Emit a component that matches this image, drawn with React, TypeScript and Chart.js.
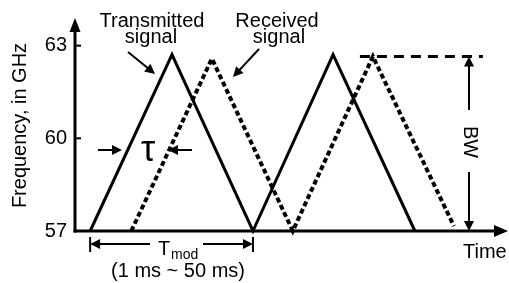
import React, { useEffect, useRef } from "react";
import { Chart, registerables } from "chart.js";

Chart.register(...registerables);

// ---- data (time in arbitrary units, frequency in GHz) ----
const timeTx = [3.5, 22.4, 41.1, 59.6, 78.5];
const freqTx = [57, 62.71, 57, 62.71, 57];
const timeRx = [13.0, 31.6, 50.3, 68.8, 87.5];
const freqRx = [57, 62.58, 57, 62.65, 57.16];
const bwTime = [65.8, 94.2];
const bwFreq = [62.65, 62.65];
const yTicks = [57, 60, 63];

const yTitle = "Frequency, in GHz";
const xTitle = "Time";
const txLabel = ["Transmitted", "signal"];
const rxLabel = ["Received", "signal"];
const tauLabel = "τ";
const bwLabel = "BW";
const tmodMain = "T";
const tmodSub = "mod";
const tmodRange = "(1 ms ~ 50 ms)";

const FONT = '"Liberation Sans", Arial, sans-serif';

const pts = (xs: number[], ys: number[]) => xs.map((x, i) => ({ x, y: ys[i] }));

const annotPlugin = {
  id: "annot",
  afterDraw(chart: any) {
    const { ctx, chartArea: ca, scales } = chart;
    const X = (v: number) => scales.x.getPixelForValue(v);
    const Y = (v: number) => scales.y.getPixelForValue(v);
    ctx.save();
    ctx.strokeStyle = "#000";
    ctx.fillStyle = "#000";
    ctx.setLineDash([]);
    ctx.lineCap = "butt";

    const line = (x1: number, y1: number, x2: number, y2: number, w = 2) => {
      ctx.lineWidth = w;
      ctx.beginPath();
      ctx.moveTo(x1, y1);
      ctx.lineTo(x2, y2);
      ctx.stroke();
    };
    const arrow = (
      x1: number, y1: number, x2: number, y2: number,
      w = 2, len = 9, half = 4.5
    ) => {
      const a = Math.atan2(y2 - y1, x2 - x1);
      const c = Math.cos(a), s = Math.sin(a);
      line(x1, y1, x2 - c * (len - 1), y2 - s * (len - 1), w);
      ctx.beginPath();
      ctx.moveTo(x2, y2);
      ctx.lineTo(x2 - len * c + half * s, y2 - len * s - half * c);
      ctx.lineTo(x2 - len * c - half * s, y2 - len * s + half * c);
      ctx.closePath();
      ctx.fill();
    };
    const text = (t: string, x: number, y: number, size: number, align: CanvasTextAlign = "center") => {
      ctx.font = `${size}px ${FONT}`;
      ctx.textAlign = align;
      ctx.textBaseline = "alphabetic";
      ctx.fillText(t, x, y);
    };

    const x0 = ca.left;
    const yb = Y(57);

    // axes with arrows
    arrow(x0, yb + 1.5, x0, ca.top - 2, 3, 14, 5.5);
    arrow(x0 - 1.5, yb, ca.right, yb, 3, 14, 6);
    // inward tick marks
    yTicks.forEach((v) => line(x0, Y(v), x0 + 6, Y(v), 2));

    // x axis title
    text(xTitle, 463, 258, 20, "left");

    // transmitted / received labels
    text(txLabel[0], 152, 27, 20);
    text(txLabel[1], 151, 43, 20);
    arrow(128, 52, 155, 74, 2, 10, 5);
    text(rxLabel[0], 277, 27, 20);
    text(rxLabel[1], 279, 43, 20);
    arrow(259, 49, 233, 77, 2, 10, 5);

    // tau
    arrow(98, 150, 122, 150, 2, 10, 5);
    arrow(192, 150, 168, 150, 2, 10, 5);
    text(tauLabel, 148, 161, 36);

    // BW
    const bx = 469;
    arrow(bx, 110, bx, Y(bwFreq[0]), 2, 10, 5);
    arrow(bx, 172, bx, yb, 2, 10, 5);
    ctx.save();
    ctx.translate(bx + 1, 142);
    ctx.rotate(Math.PI / 2);
    ctx.font = `20px ${FONT}`;
    ctx.textAlign = "center";
    ctx.textBaseline = "middle";
    ctx.fillText(bwLabel, 0, 0);
    ctx.restore();

    // T_mod
    const xl = X(timeTx[0]);
    const xr = X(timeTx[2]);
    line(xl, 237, xl, 252, 2);
    line(xr, 237, xr, 252, 2);
    arrow(150, 244, xl, 244, 2, 10, 5);
    arrow(203, 244, xr, 244, 2, 10, 5);
    text(tmodMain, 158, 255, 20, "left");
    text(tmodSub, 171, 259, 14, "left");
    text(tmodRange, 178, 277, 20);

    ctx.restore();
  },
};

export default function App() {
  const ref = useRef<HTMLCanvasElement | null>(null);
  useEffect(() => {
    if (!ref.current) return;
    const chart = new Chart(ref.current, {
      type: "line",
      data: {
        datasets: [
          {
            label: "Transmitted signal",
            data: pts(timeTx, freqTx),
            borderColor: "#000",
            borderWidth: 3,
            pointRadius: 0,
            tension: 0,
            clip: false,
          },
          {
            label: "Received signal",
            data: pts(timeRx, freqRx),
            borderColor: "#000",
            borderWidth: 4,
            borderDash: [5, 3],
            pointRadius: 0,
            tension: 0,
            clip: false,
          },
          {
            label: "BW reference",
            data: pts(bwTime, bwFreq),
            borderColor: "#000",
            borderWidth: 3,
            borderDash: [10, 7],
            pointRadius: 0,
            tension: 0,
            clip: false,
          },
        ],
      } as any,
      options: {
        animation: false,
        responsive: false,
        maintainAspectRatio: false,
        layout: { padding: { top: 18, bottom: 52, left: 0, right: 1 } },
        plugins: { legend: { display: false }, tooltip: { enabled: false } },
        scales: {
          x: { type: "linear", display: false, min: 0, max: 100 },
          y: {
            type: "linear",
            min: 57,
            max: 63.83,
            afterFit(s: any) {
              s.width = 75;
            },
            afterBuildTicks(s: any) {
              s.ticks = yTicks.map((v) => ({ value: v }));
            },
            grid: { display: false, drawTicks: false },
            border: { display: false },
            ticks: { padding: 8, color: "#000", font: { family: FONT, size: 20 } },
            title: {
              display: true,
              text: yTitle,
              color: "#000",
              font: { family: FONT, size: 20 },
              padding: { top: 8, bottom: 0 },
            },
          },
        },
      } as any,
      plugins: [annotPlugin],
    });
    return () => chart.destroy();
  }, []);
  return (
    <div style={{ position: "fixed", left: 0, top: 0, width: 509, height: 283, background: "#fff" }}>
      <canvas ref={ref} width={509} height={283} style={{ display: "block" }} />
    </div>
  );
}
